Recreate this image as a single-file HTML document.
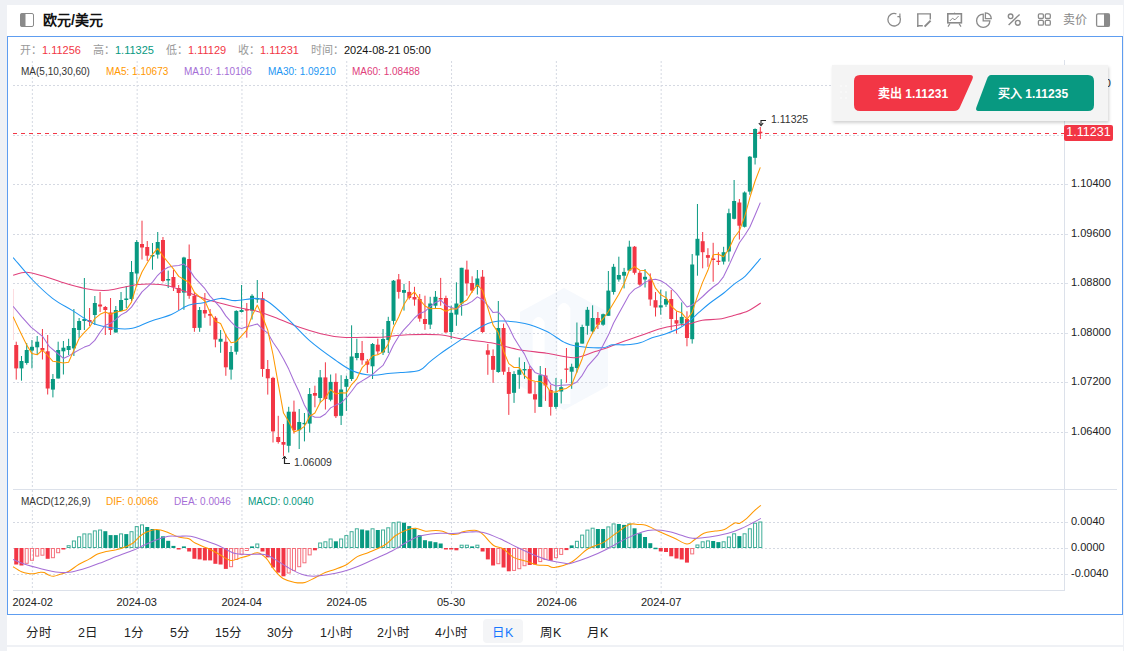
<!DOCTYPE html>
<html lang="zh-CN"><head><meta charset="utf-8">
<style>
*{margin:0;padding:0;box-sizing:border-box}
html,body{width:1124px;height:651px;overflow:hidden;background:#EFF1F5;font-family:"Liberation Sans",sans-serif;position:relative}
.panel{position:absolute;left:7px;top:5px;width:1116px;height:640px;background:#fff}
.frame{position:absolute;left:7px;top:36px;width:1116px;height:579px;border:1px solid #5E9DF0}
.t{position:absolute;white-space:nowrap;line-height:1}
svg{position:absolute;left:0;top:0}
.lbl{color:#999}
.tab{position:absolute;top:619px;height:24px;line-height:24px;font-size:13px;color:#222;text-align:center}
</style></head><body>
<div class="panel"></div>
<div class="frame"></div>
<!-- header -->
<svg width="1124" height="40" style="z-index:2">
 <rect x="20.5" y="13.5" width="13" height="13" rx="1.5" fill="none" stroke="#8a8a8a" stroke-width="1"/>
 <rect x="20.5" y="13.5" width="5" height="13" fill="#8a8a8a"/>
</svg>
<div class="t" style="left:43px;top:13px;font-size:14px;font-weight:bold;color:#111">欧元/美元</div>
<div class="t" style="left:1063px;top:14px;font-size:12px;color:#888">卖价</div>
<svg width="1124" height="40" style="z-index:2" fill="none" stroke="#8a8a8a" stroke-width="1.3">
 <path d="M899.6 16.5 A6.3 6.3 0 1 1 896.4 13.8" />
 <path d="M897.4 16.6 L899.9 16.6 L899.9 13.6" stroke-width="1.2"/>
 <path d="M917.8 13.2 V27 M917 13.9 H931 M930.3 13.2 V19.5 M917 25.7 H922.8" stroke-width="1.4"/>
 <path d="M924.6 26.6 L930.6 20.6" stroke-width="2"/>
 <rect x="947.8" y="13.8" width="13.6" height="9" stroke-width="1.6"/>
 <path d="M954.6 12.6 V13.6 M949.8 21 L952.4 18.3 L955 19.8 L958.6 16" stroke-width="1"/>
 <path d="M950 23.5 L948 26.6 M959 23.5 L961 26.6" stroke-width="1.2"/>
 <path d="M983.2 14.1 A6.65 6.65 0 1 0 989.9 20.8 L983.2 20.8 Z" stroke-width="1.3"/>
 <path d="M985.4 12.8 A5.9 5.9 0 0 1 991.3 18.7 L985.4 18.7 Z" stroke-width="1.3"/>
 <path d="M1008.6 25 L1019.6 14.4" stroke-width="1.4"/>
 <circle cx="1010.6" cy="16.3" r="2.3" stroke-width="1.4"/><circle cx="1017.8" cy="22.8" r="2.4" stroke-width="1.4"/>
 <rect x="1038.4" y="13.9" width="5" height="4.6" rx="1.2"/><rect x="1045.3" y="13.9" width="5" height="4.6" rx="1.2"/>
 <rect x="1038.4" y="20.4" width="5" height="4.8" rx="1.2"/><rect x="1045.3" y="20.4" width="5" height="4.8" rx="1.2"/>
 <rect x="1096.6" y="13.8" width="12.8" height="12.6" rx="1.5"/>
 <rect x="1104" y="13.5" width="5.5" height="13" fill="#8a8a8a" stroke="none"/>
</svg>
<!-- chart -->
<svg width="1124" height="651">
<defs><clipPath id="mainclip"><rect x="13" y="60" width="1051" height="429"/></clipPath></defs>
<path fill-rule="evenodd" fill="#F6F9FD" d="M564 288 L608 312 L608 386 L564 410 L520 386 L520 312 Z M532.6 390 V322 Q538.6 312 544.6 322 V396 Z M557.5 404 V308 Q564 298 570.4 308 V404 Z"/>
<g stroke="#D5D9E2" stroke-width="1" stroke-dasharray="2,2" fill="none">
<line x1="13" y1="85.5" x2="1064" y2="85.5"/>
<line x1="13" y1="135.5" x2="1064" y2="135.5"/>
<line x1="13" y1="184.5" x2="1064" y2="184.5"/>
<line x1="13" y1="234.5" x2="1064" y2="234.5"/>
<line x1="13" y1="283.5" x2="1064" y2="283.5"/>
<line x1="13" y1="333.5" x2="1064" y2="333.5"/>
<line x1="13" y1="382.5" x2="1064" y2="382.5"/>
<line x1="13" y1="432.5" x2="1064" y2="432.5"/>
<line x1="13" y1="522.5" x2="1064" y2="522.5"/>
<line x1="13" y1="548.5" x2="1064" y2="548.5"/>
<line x1="13" y1="574.5" x2="1064" y2="574.5"/>
<line x1="32.36" y1="61" x2="32.36" y2="489"/>
<line x1="32.36" y1="490" x2="32.36" y2="590"/>
<line x1="137.16" y1="61" x2="137.16" y2="489"/>
<line x1="137.16" y1="490" x2="137.16" y2="590"/>
<line x1="241.96" y1="61" x2="241.96" y2="489"/>
<line x1="241.96" y1="490" x2="241.96" y2="590"/>
<line x1="346.76" y1="61" x2="346.76" y2="489"/>
<line x1="346.76" y1="490" x2="346.76" y2="590"/>
<line x1="451.56" y1="61" x2="451.56" y2="489"/>
<line x1="451.56" y1="490" x2="451.56" y2="590"/>
<line x1="556.36" y1="61" x2="556.36" y2="489"/>
<line x1="556.36" y1="490" x2="556.36" y2="590"/>
<line x1="661.16" y1="61" x2="661.16" y2="489"/>
<line x1="661.16" y1="490" x2="661.16" y2="590"/>
</g>
<g stroke="#DCE1EA" stroke-width="1" fill="none">
<line x1="1064.5" y1="60" x2="1064.5" y2="591"/>
<line x1="13" y1="489.5" x2="1117" y2="489.5"/>
<line x1="13" y1="590.5" x2="1064" y2="590.5"/>
<line x1="1065" y1="85.5" x2="1068" y2="85.5"/>
<line x1="1065" y1="135.5" x2="1068" y2="135.5"/>
<line x1="1065" y1="184.5" x2="1068" y2="184.5"/>
<line x1="1065" y1="234.5" x2="1068" y2="234.5"/>
<line x1="1065" y1="283.5" x2="1068" y2="283.5"/>
<line x1="1065" y1="333.5" x2="1068" y2="333.5"/>
<line x1="1065" y1="382.5" x2="1068" y2="382.5"/>
<line x1="1065" y1="432.5" x2="1068" y2="432.5"/>
<line x1="1065" y1="522.5" x2="1068" y2="522.5"/>
<line x1="1065" y1="548.5" x2="1068" y2="548.5"/>
<line x1="1065" y1="574.5" x2="1068" y2="574.5"/>
<line x1="32.36" y1="591" x2="32.36" y2="594"/>
<line x1="137.16" y1="591" x2="137.16" y2="594"/>
<line x1="241.96" y1="591" x2="241.96" y2="594"/>
<line x1="346.76" y1="591" x2="346.76" y2="594"/>
<line x1="451.56" y1="591" x2="451.56" y2="594"/>
<line x1="556.36" y1="591" x2="556.36" y2="594"/>
<line x1="661.16" y1="591" x2="661.16" y2="594"/>
</g>
<g clip-path="url(#mainclip)">
<line x1="13.5" y1="289" x2="13.5" y2="340" stroke="#FCDCE0" stroke-width="1"/>
<line x1="16.24" y1="341.7" x2="16.24" y2="379.6" stroke="#F23645" stroke-width="1"/>
<rect x="14.24" y="345.0" width="4" height="23.4" fill="#F23645"/>
<line x1="21.48" y1="356.0" x2="21.48" y2="380.7" stroke="#089981" stroke-width="1"/>
<rect x="19.48" y="361.0" width="4" height="7.4" fill="#089981"/>
<line x1="26.72" y1="343.0" x2="26.72" y2="364.7" stroke="#089981" stroke-width="1"/>
<rect x="24.72" y="350.0" width="4" height="13.0" fill="#089981"/>
<line x1="31.96" y1="340.0" x2="31.96" y2="368.4" stroke="#089981" stroke-width="1"/>
<rect x="29.96" y="346.8" width="4" height="3.8" fill="#089981"/>
<line x1="37.20" y1="336.0" x2="37.20" y2="355.0" stroke="#089981" stroke-width="1"/>
<rect x="35.20" y="341.7" width="4" height="5.6" fill="#089981"/>
<line x1="42.44" y1="329.0" x2="42.44" y2="359.5" stroke="#F23645" stroke-width="1"/>
<rect x="40.44" y="348.0" width="4" height="2.5" fill="#F23645"/>
<line x1="47.68" y1="335.0" x2="47.68" y2="394.5" stroke="#F23645" stroke-width="1"/>
<rect x="45.68" y="351.3" width="4" height="37.2" fill="#F23645"/>
<line x1="52.92" y1="374.0" x2="52.92" y2="397.4" stroke="#089981" stroke-width="1"/>
<rect x="50.92" y="379.0" width="4" height="10.6" fill="#089981"/>
<line x1="58.16" y1="341.7" x2="58.16" y2="378.5" stroke="#089981" stroke-width="1"/>
<rect x="56.16" y="350.0" width="4" height="28.5" fill="#089981"/>
<line x1="63.40" y1="341.0" x2="63.40" y2="374.5" stroke="#089981" stroke-width="1"/>
<rect x="61.40" y="347.7" width="4" height="3.6" fill="#089981"/>
<line x1="68.64" y1="338.8" x2="68.64" y2="355.0" stroke="#089981" stroke-width="1"/>
<rect x="66.64" y="346.0" width="4" height="4.0" fill="#089981"/>
<line x1="73.88" y1="309.0" x2="73.88" y2="356.0" stroke="#089981" stroke-width="1"/>
<rect x="71.88" y="328.0" width="4" height="20.4" fill="#089981"/>
<line x1="79.12" y1="318.0" x2="79.12" y2="338.0" stroke="#089981" stroke-width="1"/>
<rect x="77.12" y="321.0" width="4" height="9.0" fill="#089981"/>
<line x1="84.36" y1="278.0" x2="84.36" y2="330.0" stroke="#089981" stroke-width="1"/>
<rect x="82.36" y="319.0" width="4" height="2.0" fill="#089981"/>
<line x1="89.60" y1="308.0" x2="89.60" y2="326.0" stroke="#F23645" stroke-width="1"/>
<rect x="87.60" y="320.0" width="4" height="2.0" fill="#F23645"/>
<line x1="94.84" y1="296.0" x2="94.84" y2="325.0" stroke="#089981" stroke-width="1"/>
<rect x="92.84" y="303.0" width="4" height="12.0" fill="#089981"/>
<line x1="100.08" y1="292.0" x2="100.08" y2="312.0" stroke="#F23645" stroke-width="1"/>
<rect x="98.08" y="304.5" width="4" height="2.0" fill="#F23645"/>
<line x1="105.32" y1="306.0" x2="105.32" y2="335.0" stroke="#F23645" stroke-width="1"/>
<rect x="103.32" y="307.0" width="4" height="3.0" fill="#F23645"/>
<line x1="110.56" y1="298.0" x2="110.56" y2="335.0" stroke="#F23645" stroke-width="1"/>
<rect x="108.56" y="312.5" width="4" height="17.5" fill="#F23645"/>
<line x1="115.80" y1="306.0" x2="115.80" y2="332.5" stroke="#089981" stroke-width="1"/>
<rect x="113.80" y="310.0" width="4" height="22.5" fill="#089981"/>
<line x1="121.04" y1="292.0" x2="121.04" y2="311.0" stroke="#089981" stroke-width="1"/>
<rect x="119.04" y="300.0" width="4" height="11.0" fill="#089981"/>
<line x1="126.28" y1="286.0" x2="126.28" y2="308.0" stroke="#089981" stroke-width="1"/>
<rect x="124.28" y="298.5" width="4" height="1.5" fill="#089981"/>
<line x1="131.52" y1="261.0" x2="131.52" y2="301.0" stroke="#089981" stroke-width="1"/>
<rect x="129.52" y="272.0" width="4" height="27.0" fill="#089981"/>
<line x1="136.76" y1="240.0" x2="136.76" y2="285.0" stroke="#089981" stroke-width="1"/>
<rect x="134.76" y="242.0" width="4" height="31.5" fill="#089981"/>
<line x1="142.00" y1="220.7" x2="142.00" y2="259.5" stroke="#F23645" stroke-width="1"/>
<rect x="140.00" y="244.0" width="4" height="3.5" fill="#F23645"/>
<line x1="147.24" y1="241.0" x2="147.24" y2="261.0" stroke="#F23645" stroke-width="1"/>
<rect x="145.24" y="247.0" width="4" height="8.7" fill="#F23645"/>
<line x1="152.48" y1="243.0" x2="152.48" y2="269.7" stroke="#089981" stroke-width="1"/>
<rect x="150.48" y="255.0" width="4" height="1.5" fill="#089981"/>
<line x1="157.72" y1="232.0" x2="157.72" y2="258.6" stroke="#089981" stroke-width="1"/>
<rect x="155.72" y="242.0" width="4" height="12.6" fill="#089981"/>
<line x1="162.96" y1="237.0" x2="162.96" y2="282.4" stroke="#F23645" stroke-width="1"/>
<rect x="160.96" y="240.0" width="4" height="41.0" fill="#F23645"/>
<line x1="168.20" y1="270.6" x2="168.20" y2="288.0" stroke="#089981" stroke-width="1"/>
<rect x="166.20" y="279.0" width="4" height="1.5" fill="#089981"/>
<line x1="173.44" y1="269.7" x2="173.44" y2="291.0" stroke="#F23645" stroke-width="1"/>
<rect x="171.44" y="277.0" width="4" height="10.0" fill="#F23645"/>
<line x1="178.68" y1="285.0" x2="178.68" y2="310.0" stroke="#F23645" stroke-width="1"/>
<rect x="176.68" y="288.0" width="4" height="5.0" fill="#F23645"/>
<line x1="183.92" y1="256.8" x2="183.92" y2="309.8" stroke="#089981" stroke-width="1"/>
<rect x="181.92" y="257.5" width="4" height="35.1" fill="#089981"/>
<line x1="189.16" y1="244.5" x2="189.16" y2="298.8" stroke="#F23645" stroke-width="1"/>
<rect x="187.16" y="259.0" width="4" height="36.8" fill="#F23645"/>
<line x1="194.40" y1="292.0" x2="194.40" y2="331.8" stroke="#F23645" stroke-width="1"/>
<rect x="192.40" y="295.8" width="4" height="32.2" fill="#F23645"/>
<line x1="199.64" y1="307.0" x2="199.64" y2="331.8" stroke="#089981" stroke-width="1"/>
<rect x="197.64" y="310.0" width="4" height="17.8" fill="#089981"/>
<line x1="204.88" y1="293.0" x2="204.88" y2="317.8" stroke="#F23645" stroke-width="1"/>
<rect x="202.88" y="310.0" width="4" height="3.5" fill="#F23645"/>
<line x1="210.12" y1="309.0" x2="210.12" y2="325.7" stroke="#F23645" stroke-width="1"/>
<rect x="208.12" y="314.0" width="4" height="1.7" fill="#F23645"/>
<line x1="215.36" y1="316.2" x2="215.36" y2="347.3" stroke="#F23645" stroke-width="1"/>
<rect x="213.36" y="317.8" width="4" height="21.7" fill="#F23645"/>
<line x1="220.60" y1="330.0" x2="220.60" y2="352.8" stroke="#089981" stroke-width="1"/>
<rect x="218.60" y="338.8" width="4" height="2.9" fill="#089981"/>
<line x1="225.84" y1="334.0" x2="225.84" y2="375.8" stroke="#F23645" stroke-width="1"/>
<rect x="223.84" y="341.7" width="4" height="25.6" fill="#F23645"/>
<line x1="231.08" y1="346.0" x2="231.08" y2="379.6" stroke="#089981" stroke-width="1"/>
<rect x="229.08" y="352.0" width="4" height="17.6" fill="#089981"/>
<line x1="236.32" y1="310.3" x2="236.32" y2="354.6" stroke="#089981" stroke-width="1"/>
<rect x="234.32" y="310.9" width="4" height="40.8" fill="#089981"/>
<line x1="241.56" y1="285.0" x2="241.56" y2="312.5" stroke="#089981" stroke-width="1"/>
<rect x="239.56" y="310.0" width="4" height="2.0" fill="#089981"/>
<line x1="246.80" y1="303.0" x2="246.80" y2="337.7" stroke="#F23645" stroke-width="1"/>
<rect x="244.80" y="309.2" width="4" height="1.4" fill="#F23645"/>
<line x1="252.04" y1="294.2" x2="252.04" y2="319.5" stroke="#089981" stroke-width="1"/>
<rect x="250.04" y="295.8" width="4" height="14.8" fill="#089981"/>
<line x1="257.28" y1="280.0" x2="257.28" y2="302.8" stroke="#089981" stroke-width="1"/>
<rect x="255.28" y="298.0" width="4" height="1.5" fill="#089981"/>
<line x1="262.52" y1="292.0" x2="262.52" y2="376.8" stroke="#F23645" stroke-width="1"/>
<rect x="260.52" y="298.2" width="4" height="70.8" fill="#F23645"/>
<line x1="267.76" y1="360.0" x2="267.76" y2="394.6" stroke="#F23645" stroke-width="1"/>
<rect x="265.76" y="369.0" width="4" height="9.3" fill="#F23645"/>
<line x1="273.00" y1="376.8" x2="273.00" y2="442.5" stroke="#F23645" stroke-width="1"/>
<rect x="271.00" y="377.9" width="4" height="53.5" fill="#F23645"/>
<line x1="278.24" y1="415.8" x2="278.24" y2="443.6" stroke="#F23645" stroke-width="1"/>
<rect x="276.24" y="437.0" width="4" height="5.0" fill="#F23645"/>
<line x1="283.48" y1="424.0" x2="283.48" y2="455.9" stroke="#F23645" stroke-width="1"/>
<rect x="281.48" y="442.0" width="4" height="2.7" fill="#F23645"/>
<line x1="288.72" y1="406.8" x2="288.72" y2="452.5" stroke="#089981" stroke-width="1"/>
<rect x="286.72" y="411.7" width="4" height="34.1" fill="#089981"/>
<line x1="293.96" y1="400.6" x2="293.96" y2="433.6" stroke="#F23645" stroke-width="1"/>
<rect x="291.96" y="411.7" width="4" height="18.5" fill="#F23645"/>
<line x1="299.20" y1="409.0" x2="299.20" y2="449.0" stroke="#089981" stroke-width="1"/>
<rect x="297.20" y="422.0" width="4" height="8.2" fill="#089981"/>
<line x1="304.44" y1="413.0" x2="304.44" y2="441.4" stroke="#089981" stroke-width="1"/>
<rect x="302.44" y="422.9" width="4" height="1.3" fill="#089981"/>
<line x1="309.68" y1="388.0" x2="309.68" y2="432.5" stroke="#089981" stroke-width="1"/>
<rect x="307.68" y="394.0" width="4" height="29.6" fill="#089981"/>
<line x1="314.92" y1="385.7" x2="314.92" y2="407.3" stroke="#F23645" stroke-width="1"/>
<rect x="312.92" y="393.0" width="4" height="2.7" fill="#F23645"/>
<line x1="320.16" y1="370.0" x2="320.16" y2="402.8" stroke="#089981" stroke-width="1"/>
<rect x="318.16" y="377.4" width="4" height="20.6" fill="#089981"/>
<line x1="325.40" y1="362.3" x2="325.40" y2="409.5" stroke="#F23645" stroke-width="1"/>
<rect x="323.40" y="377.4" width="4" height="21.6" fill="#F23645"/>
<line x1="330.64" y1="374.5" x2="330.64" y2="401.3" stroke="#089981" stroke-width="1"/>
<rect x="328.64" y="381.9" width="4" height="17.8" fill="#089981"/>
<line x1="335.88" y1="373.4" x2="335.88" y2="418.0" stroke="#F23645" stroke-width="1"/>
<rect x="333.88" y="381.9" width="4" height="34.3" fill="#F23645"/>
<line x1="341.12" y1="375.2" x2="341.12" y2="425.0" stroke="#089981" stroke-width="1"/>
<rect x="339.12" y="389.5" width="4" height="26.3" fill="#089981"/>
<line x1="346.36" y1="375.6" x2="346.36" y2="410.9" stroke="#089981" stroke-width="1"/>
<rect x="344.36" y="379.0" width="4" height="7.8" fill="#089981"/>
<line x1="351.60" y1="325.3" x2="351.60" y2="381.0" stroke="#089981" stroke-width="1"/>
<rect x="349.60" y="356.5" width="4" height="22.5" fill="#089981"/>
<line x1="356.84" y1="338.7" x2="356.84" y2="360.3" stroke="#089981" stroke-width="1"/>
<rect x="354.84" y="353.0" width="4" height="5.0" fill="#089981"/>
<line x1="362.08" y1="341.0" x2="362.08" y2="364.7" stroke="#F23645" stroke-width="1"/>
<rect x="360.08" y="353.0" width="4" height="7.3" fill="#F23645"/>
<line x1="367.32" y1="359.0" x2="367.32" y2="373.0" stroke="#F23645" stroke-width="1"/>
<rect x="365.32" y="361.4" width="4" height="3.3" fill="#F23645"/>
<line x1="372.56" y1="343.0" x2="372.56" y2="379.0" stroke="#089981" stroke-width="1"/>
<rect x="370.56" y="344.0" width="4" height="22.3" fill="#089981"/>
<line x1="377.80" y1="338.7" x2="377.80" y2="354.7" stroke="#F23645" stroke-width="1"/>
<rect x="375.80" y="344.7" width="4" height="6.7" fill="#F23645"/>
<line x1="383.04" y1="329.0" x2="383.04" y2="355.0" stroke="#089981" stroke-width="1"/>
<rect x="381.04" y="339.0" width="4" height="13.5" fill="#089981"/>
<line x1="388.28" y1="316.8" x2="388.28" y2="353.0" stroke="#089981" stroke-width="1"/>
<rect x="386.28" y="321.0" width="4" height="19.0" fill="#089981"/>
<line x1="393.52" y1="280.0" x2="393.52" y2="324.6" stroke="#089981" stroke-width="1"/>
<rect x="391.52" y="280.7" width="4" height="40.2" fill="#089981"/>
<line x1="398.76" y1="274.0" x2="398.76" y2="298.6" stroke="#F23645" stroke-width="1"/>
<rect x="396.76" y="279.4" width="4" height="12.5" fill="#F23645"/>
<line x1="404.00" y1="283.9" x2="404.00" y2="310.6" stroke="#089981" stroke-width="1"/>
<rect x="402.00" y="290.0" width="4" height="2.8" fill="#089981"/>
<line x1="409.24" y1="281.0" x2="409.24" y2="299.5" stroke="#F23645" stroke-width="1"/>
<rect x="407.24" y="291.9" width="4" height="6.0" fill="#F23645"/>
<line x1="414.48" y1="286.8" x2="414.48" y2="305.7" stroke="#F23645" stroke-width="1"/>
<rect x="412.48" y="297.0" width="4" height="2.5" fill="#F23645"/>
<line x1="419.72" y1="294.0" x2="419.72" y2="321.7" stroke="#F23645" stroke-width="1"/>
<rect x="417.72" y="299.0" width="4" height="19.6" fill="#F23645"/>
<line x1="424.96" y1="295.7" x2="424.96" y2="329.8" stroke="#F23645" stroke-width="1"/>
<rect x="422.96" y="319.0" width="4" height="5.0" fill="#F23645"/>
<line x1="430.20" y1="296.8" x2="430.20" y2="329.0" stroke="#089981" stroke-width="1"/>
<rect x="428.20" y="303.5" width="4" height="21.1" fill="#089981"/>
<line x1="435.44" y1="291.0" x2="435.44" y2="308.4" stroke="#089981" stroke-width="1"/>
<rect x="433.44" y="296.8" width="4" height="8.9" fill="#089981"/>
<line x1="440.68" y1="277.9" x2="440.68" y2="305.7" stroke="#F23645" stroke-width="1"/>
<rect x="438.68" y="298.0" width="4" height="1.5" fill="#F23645"/>
<line x1="445.92" y1="295.7" x2="445.92" y2="332.9" stroke="#F23645" stroke-width="1"/>
<rect x="443.92" y="298.0" width="4" height="34.4" fill="#F23645"/>
<line x1="451.16" y1="305.7" x2="451.16" y2="339.0" stroke="#089981" stroke-width="1"/>
<rect x="449.16" y="312.8" width="4" height="19.2" fill="#089981"/>
<line x1="456.40" y1="282.3" x2="456.40" y2="325.8" stroke="#089981" stroke-width="1"/>
<rect x="454.40" y="303.5" width="4" height="11.1" fill="#089981"/>
<line x1="461.64" y1="267.8" x2="461.64" y2="315.7" stroke="#089981" stroke-width="1"/>
<rect x="459.64" y="267.8" width="4" height="35.7" fill="#089981"/>
<line x1="466.88" y1="260.7" x2="466.88" y2="295.7" stroke="#F23645" stroke-width="1"/>
<rect x="464.88" y="269.6" width="4" height="13.8" fill="#F23645"/>
<line x1="472.12" y1="276.3" x2="472.12" y2="292.8" stroke="#F23645" stroke-width="1"/>
<rect x="470.12" y="283.0" width="4" height="7.6" fill="#F23645"/>
<line x1="477.36" y1="270.0" x2="477.36" y2="294.6" stroke="#089981" stroke-width="1"/>
<rect x="475.36" y="278.5" width="4" height="8.3" fill="#089981"/>
<line x1="482.60" y1="270.0" x2="482.60" y2="332.9" stroke="#F23645" stroke-width="1"/>
<rect x="480.60" y="276.7" width="4" height="55.3" fill="#F23645"/>
<line x1="487.84" y1="344.0" x2="487.84" y2="374.8" stroke="#F23645" stroke-width="1"/>
<rect x="485.84" y="350.3" width="4" height="4.4" fill="#F23645"/>
<line x1="493.08" y1="349.4" x2="493.08" y2="382.8" stroke="#F23645" stroke-width="1"/>
<rect x="491.08" y="356.0" width="4" height="13.8" fill="#F23645"/>
<line x1="498.32" y1="301.0" x2="498.32" y2="372.8" stroke="#089981" stroke-width="1"/>
<rect x="496.32" y="328.0" width="4" height="44.0" fill="#089981"/>
<line x1="503.56" y1="323.6" x2="503.56" y2="374.8" stroke="#F23645" stroke-width="1"/>
<rect x="501.56" y="328.0" width="4" height="43.7" fill="#F23645"/>
<line x1="508.80" y1="367.2" x2="508.80" y2="414.9" stroke="#F23645" stroke-width="1"/>
<rect x="506.80" y="372.0" width="4" height="21.9" fill="#F23645"/>
<line x1="514.04" y1="371.2" x2="514.04" y2="402.9" stroke="#089981" stroke-width="1"/>
<rect x="512.04" y="374.0" width="4" height="18.8" fill="#089981"/>
<line x1="519.28" y1="357.4" x2="519.28" y2="388.8" stroke="#089981" stroke-width="1"/>
<rect x="517.28" y="369.8" width="4" height="5.0" fill="#089981"/>
<line x1="524.52" y1="362.0" x2="524.52" y2="378.8" stroke="#089981" stroke-width="1"/>
<rect x="522.52" y="369.0" width="4" height="1.4" fill="#089981"/>
<line x1="529.76" y1="366.0" x2="529.76" y2="393.5" stroke="#F23645" stroke-width="1"/>
<rect x="527.76" y="369.0" width="4" height="24.5" fill="#F23645"/>
<line x1="535.00" y1="382.0" x2="535.00" y2="412.9" stroke="#F23645" stroke-width="1"/>
<rect x="533.00" y="394.2" width="4" height="5.3" fill="#F23645"/>
<line x1="540.24" y1="366.0" x2="540.24" y2="406.9" stroke="#089981" stroke-width="1"/>
<rect x="538.24" y="375.2" width="4" height="31.7" fill="#089981"/>
<line x1="545.48" y1="368.0" x2="545.48" y2="400.9" stroke="#F23645" stroke-width="1"/>
<rect x="543.48" y="375.5" width="4" height="10.0" fill="#F23645"/>
<line x1="550.72" y1="384.8" x2="550.72" y2="415.6" stroke="#F23645" stroke-width="1"/>
<rect x="548.72" y="390.0" width="4" height="16.9" fill="#F23645"/>
<line x1="555.96" y1="378.0" x2="555.96" y2="408.9" stroke="#089981" stroke-width="1"/>
<rect x="553.96" y="392.8" width="4" height="14.1" fill="#089981"/>
<line x1="561.20" y1="379.2" x2="561.20" y2="403.5" stroke="#089981" stroke-width="1"/>
<rect x="559.20" y="387.2" width="4" height="4.3" fill="#089981"/>
<line x1="566.44" y1="348.0" x2="566.44" y2="382.8" stroke="#F23645" stroke-width="1"/>
<rect x="564.44" y="368.5" width="4" height="1.3" fill="#F23645"/>
<line x1="571.68" y1="363.7" x2="571.68" y2="388.8" stroke="#089981" stroke-width="1"/>
<rect x="569.68" y="366.8" width="4" height="4.9" fill="#089981"/>
<line x1="576.92" y1="322.5" x2="576.92" y2="372.6" stroke="#089981" stroke-width="1"/>
<rect x="574.92" y="342.5" width="4" height="25.5" fill="#089981"/>
<line x1="582.16" y1="324.7" x2="582.16" y2="343.6" stroke="#089981" stroke-width="1"/>
<rect x="580.16" y="327.0" width="4" height="16.6" fill="#089981"/>
<line x1="587.40" y1="306.9" x2="587.40" y2="334.7" stroke="#089981" stroke-width="1"/>
<rect x="585.40" y="309.8" width="4" height="16.0" fill="#089981"/>
<line x1="592.64" y1="305.3" x2="592.64" y2="333.6" stroke="#089981" stroke-width="1"/>
<rect x="590.64" y="318.0" width="4" height="13.4" fill="#089981"/>
<line x1="597.88" y1="312.0" x2="597.88" y2="329.0" stroke="#F23645" stroke-width="1"/>
<rect x="595.88" y="318.0" width="4" height="6.7" fill="#F23645"/>
<line x1="603.12" y1="313.6" x2="603.12" y2="325.8" stroke="#089981" stroke-width="1"/>
<rect x="601.12" y="314.2" width="4" height="10.5" fill="#089981"/>
<line x1="608.36" y1="271.0" x2="608.36" y2="315.8" stroke="#089981" stroke-width="1"/>
<rect x="606.36" y="290.6" width="4" height="25.2" fill="#089981"/>
<line x1="613.60" y1="263.9" x2="613.60" y2="294.6" stroke="#089981" stroke-width="1"/>
<rect x="611.60" y="266.8" width="4" height="25.2" fill="#089981"/>
<line x1="618.84" y1="256.7" x2="618.84" y2="281.7" stroke="#089981" stroke-width="1"/>
<rect x="616.84" y="275.0" width="4" height="4.5" fill="#089981"/>
<line x1="624.08" y1="267.9" x2="624.08" y2="288.4" stroke="#089981" stroke-width="1"/>
<rect x="622.08" y="271.9" width="4" height="3.8" fill="#089981"/>
<line x1="629.32" y1="240.7" x2="629.32" y2="270.6" stroke="#089981" stroke-width="1"/>
<rect x="627.32" y="246.7" width="4" height="23.9" fill="#089981"/>
<line x1="634.56" y1="246.0" x2="634.56" y2="274.6" stroke="#F23645" stroke-width="1"/>
<rect x="632.56" y="246.7" width="4" height="26.1" fill="#F23645"/>
<line x1="639.80" y1="271.0" x2="639.80" y2="285.7" stroke="#F23645" stroke-width="1"/>
<rect x="637.80" y="272.8" width="4" height="11.8" fill="#F23645"/>
<line x1="645.04" y1="269.0" x2="645.04" y2="287.5" stroke="#089981" stroke-width="1"/>
<rect x="643.04" y="276.8" width="4" height="2.7" fill="#089981"/>
<line x1="650.28" y1="273.4" x2="650.28" y2="305.8" stroke="#F23645" stroke-width="1"/>
<rect x="648.28" y="279.5" width="4" height="20.0" fill="#F23645"/>
<line x1="655.52" y1="292.0" x2="655.52" y2="316.5" stroke="#F23645" stroke-width="1"/>
<rect x="653.52" y="300.2" width="4" height="7.3" fill="#F23645"/>
<line x1="660.76" y1="289.7" x2="660.76" y2="314.7" stroke="#089981" stroke-width="1"/>
<rect x="658.76" y="305.3" width="4" height="2.2" fill="#089981"/>
<line x1="666.00" y1="291.3" x2="666.00" y2="306.9" stroke="#089981" stroke-width="1"/>
<rect x="664.00" y="299.0" width="4" height="5.6" fill="#089981"/>
<line x1="671.24" y1="290.0" x2="671.24" y2="330.3" stroke="#F23645" stroke-width="1"/>
<rect x="669.24" y="299.0" width="4" height="20.0" fill="#F23645"/>
<line x1="676.48" y1="311.3" x2="676.48" y2="333.6" stroke="#F23645" stroke-width="1"/>
<rect x="674.48" y="320.2" width="4" height="3.4" fill="#F23645"/>
<line x1="681.72" y1="302.4" x2="681.72" y2="325.8" stroke="#089981" stroke-width="1"/>
<rect x="679.72" y="316.9" width="4" height="6.7" fill="#089981"/>
<line x1="686.96" y1="311.3" x2="686.96" y2="346.3" stroke="#F23645" stroke-width="1"/>
<rect x="684.96" y="319.0" width="4" height="19.0" fill="#F23645"/>
<line x1="692.20" y1="254.0" x2="692.20" y2="343.6" stroke="#089981" stroke-width="1"/>
<rect x="690.20" y="264.5" width="4" height="74.7" fill="#089981"/>
<line x1="697.44" y1="204.0" x2="697.44" y2="275.7" stroke="#089981" stroke-width="1"/>
<rect x="695.44" y="238.8" width="4" height="16.7" fill="#089981"/>
<line x1="702.68" y1="232.0" x2="702.68" y2="268.3" stroke="#F23645" stroke-width="1"/>
<rect x="700.68" y="241.2" width="4" height="11.0" fill="#F23645"/>
<line x1="707.92" y1="248.2" x2="707.92" y2="266.8" stroke="#F23645" stroke-width="1"/>
<rect x="705.92" y="255.1" width="4" height="2.7" fill="#F23645"/>
<line x1="713.16" y1="242.8" x2="713.16" y2="281.7" stroke="#F23645" stroke-width="1"/>
<rect x="711.16" y="258.5" width="4" height="1.5" fill="#F23645"/>
<line x1="718.40" y1="252.2" x2="718.40" y2="265.0" stroke="#F23645" stroke-width="1"/>
<rect x="716.40" y="260.7" width="4" height="1.3" fill="#F23645"/>
<line x1="723.64" y1="246.8" x2="723.64" y2="264.5" stroke="#089981" stroke-width="1"/>
<rect x="721.64" y="252.2" width="4" height="9.4" fill="#089981"/>
<line x1="728.88" y1="208.7" x2="728.88" y2="261.6" stroke="#089981" stroke-width="1"/>
<rect x="726.88" y="213.2" width="4" height="38.3" fill="#089981"/>
<line x1="734.12" y1="180.0" x2="734.12" y2="219.4" stroke="#089981" stroke-width="1"/>
<rect x="732.12" y="201.0" width="4" height="17.8" fill="#089981"/>
<line x1="739.36" y1="199.0" x2="739.36" y2="239.5" stroke="#F23645" stroke-width="1"/>
<rect x="737.36" y="202.5" width="4" height="23.2" fill="#F23645"/>
<line x1="744.60" y1="191.4" x2="744.60" y2="227.5" stroke="#089981" stroke-width="1"/>
<rect x="742.60" y="192.5" width="4" height="34.3" fill="#089981"/>
<line x1="749.84" y1="156.0" x2="749.84" y2="194.8" stroke="#089981" stroke-width="1"/>
<rect x="747.84" y="156.7" width="4" height="34.9" fill="#089981"/>
<line x1="755.08" y1="128.4" x2="755.08" y2="164.5" stroke="#089981" stroke-width="1"/>
<rect x="753.08" y="129.0" width="4" height="28.8" fill="#089981"/>
<line x1="760.32" y1="127.0" x2="760.32" y2="139.0" stroke="#F23645" stroke-width="1"/>
<rect x="758.32" y="131.7" width="4" height="1.6" fill="#F23645"/>
</g>
<g clip-path="url(#mainclip)">
<path d="M13.1,275.3 C15.3,274.8 21.4,272.1 26.4,272.2 C31.4,272.3 37.4,274.4 43.3,276.1 C49.2,277.8 54.8,280.1 61.7,282.2 C68.6,284.2 77.9,287.0 84.8,288.4 C91.7,289.8 98.1,290.3 103.2,290.4 C108.3,290.5 109.6,290.1 115.5,289.1 C121.4,288.1 131.1,285.3 138.5,284.5 C145.9,283.7 154.5,284.1 160.0,284.5 C165.5,284.9 166.0,285.1 171.4,286.7 C176.8,288.3 185.6,291.7 192.7,294.2 C199.8,296.7 207.0,299.5 214.1,301.6 C221.2,303.7 228.3,305.4 235.4,307.0 C242.5,308.6 249.7,309.2 256.8,311.2 C263.9,313.1 271.0,316.0 278.1,318.7 C285.2,321.4 292.4,324.8 299.5,327.3 C306.6,329.8 313.7,332.0 320.8,333.7 C327.9,335.4 335.1,336.7 342.2,337.3 C349.3,337.9 357.2,337.3 363.5,337.3 C369.8,337.3 372.6,337.6 380.0,337.2 C387.4,336.8 398.0,335.2 407.8,334.8 C417.6,334.4 429.8,334.1 439.0,334.8 C448.2,335.6 454.6,338.0 463.3,339.3 C472.0,340.6 481.8,341.1 491.0,342.8 C500.2,344.5 509.5,348.0 518.8,349.7 C528.1,351.4 537.4,351.9 546.6,353.2 C555.9,354.5 566.2,358.0 574.3,357.7 C582.4,357.4 590.0,352.9 595.1,351.4 C600.2,349.9 600.9,349.9 605.0,348.5 C609.1,347.1 614.2,344.9 620.0,342.8 C625.8,340.7 633.3,338.1 640.0,335.8 C646.7,333.5 653.3,330.6 660.0,328.8 C666.7,327.0 675.0,325.7 680.0,324.8 C685.0,323.9 686.3,324.5 690.0,323.7 C693.7,322.9 697.4,321.0 702.3,320.2 C707.2,319.4 713.8,319.9 719.2,319.1 C724.6,318.3 729.6,316.7 734.5,315.3 C739.4,313.9 744.0,312.8 748.4,310.7 C752.8,308.6 758.7,304.3 760.7,303.0" fill="none" stroke="#E0407B" stroke-width="1.05"/>
<path d="M13.1,257.5 C16.4,261.2 26.0,273.2 32.6,280.0 C39.2,286.8 45.9,293.2 52.5,298.3 C59.1,303.4 65.6,306.4 72.5,310.6 C79.4,314.8 86.8,320.8 94.0,323.7 C101.2,326.6 109.1,327.5 115.5,328.3 C121.9,329.1 126.7,329.4 132.4,328.3 C138.2,327.2 143.5,323.8 150.0,321.5 C156.5,319.2 165.0,317.2 171.4,314.5 C177.8,311.8 183.1,307.3 188.4,305.3 C193.7,303.3 198.1,303.9 203.4,302.7 C208.8,301.5 215.2,298.8 220.5,298.4 C225.8,298.0 229.3,300.6 235.4,300.6 C241.5,300.6 251.1,298.0 256.8,298.4 C262.5,298.8 264.3,299.1 269.6,302.7 C274.9,306.3 282.0,313.4 288.8,319.8 C295.6,326.2 302.4,334.3 310.2,341.1 C318.0,347.9 328.7,355.4 335.8,360.4 C342.9,365.4 346.8,368.5 352.9,371.0 C358.9,373.5 366.2,374.9 372.1,375.3 C378.0,375.7 383.2,374.0 388.0,373.5 C392.8,373.0 395.6,373.0 400.8,372.5 C406.0,372.0 414.4,372.1 419.1,370.5 C423.8,368.9 425.6,365.2 428.9,362.6 C432.2,360.0 435.4,357.2 438.7,354.8 C442.0,352.4 444.2,350.9 448.5,348.0 C452.8,345.1 458.3,341.4 464.2,337.6 C470.1,333.8 477.8,328.1 483.7,325.4 C489.6,322.6 492.5,321.4 499.4,321.1 C506.2,320.8 517.0,321.8 524.8,323.5 C532.6,325.2 539.9,328.2 546.4,331.3 C552.9,334.4 559.1,339.7 564.0,342.1 C568.9,344.6 569.4,345.1 575.7,346.0 C582.0,346.9 596.0,348.0 602.0,347.8 C608.0,347.6 608.0,345.3 612.0,344.8 C616.0,344.3 621.3,345.1 626.0,344.8 C630.7,344.5 635.7,344.0 640.0,342.8 C644.3,341.6 647.7,339.3 652.0,337.8 C656.3,336.3 661.3,335.5 666.0,333.8 C670.7,332.1 676.0,330.0 680.0,327.8 C684.0,325.6 686.8,323.2 690.0,320.6 C693.2,318.0 695.9,315.1 699.2,312.2 C702.5,309.3 705.9,306.2 710.0,303.0 C714.1,299.8 719.7,296.2 723.8,293.0 C727.9,289.8 730.9,286.6 734.5,283.8 C738.1,281.0 740.9,280.3 745.3,276.1 C749.7,271.9 758.1,261.3 760.7,258.4" fill="none" stroke="#2196F3" stroke-width="1.05"/>
<polyline points="13.1,306.4 21.8,316.8 31.0,327.1 42.5,336.3 49.4,346.7 58.2,354.0 63.4,358.4 68.6,356.1 73.9,352.8 79.1,349.9 84.4,347.1 89.6,345.2 94.8,340.4 100.1,332.2 105.3,325.3 110.6,323.3 115.8,319.6 121.0,314.9 126.3,312.0 131.5,307.1 136.8,299.4 142.0,291.9 147.2,287.2 152.5,282.1 157.7,275.3 163.0,270.4 168.2,267.3 173.4,266.0 178.7,265.4 183.9,264.0 189.2,269.4 194.4,277.4 199.6,282.8 204.9,288.7 210.1,296.1 215.4,301.9 220.6,307.9 225.8,315.9 231.1,321.8 236.3,327.1 241.6,328.6 246.8,326.8 252.0,325.4 257.3,323.9 262.5,329.2 267.8,333.1 273.0,342.3 278.2,349.8 283.5,359.1 288.7,369.1 294.0,381.2 299.2,392.3 304.4,405.0 309.7,414.6 314.9,417.3 320.2,417.2 325.4,414.0 330.6,407.9 335.9,405.1 341.1,402.9 346.4,397.8 351.6,391.2 356.8,384.2 362.1,380.9 367.3,377.8 372.6,374.4 377.8,369.6 383.0,365.4 388.3,355.8 393.5,345.0 398.8,336.2 404.0,329.6 409.2,324.1 414.5,318.0 419.7,313.4 425.0,311.4 430.2,306.6 435.4,302.4 440.7,300.2 445.9,305.4 451.2,307.5 456.4,308.9 461.6,305.8 466.9,304.2 472.1,301.4 477.4,296.9 482.6,299.7 487.8,305.5 493.1,312.6 498.3,312.1 503.6,318.0 508.8,327.0 514.0,337.7 519.3,346.3 524.5,354.1 529.8,365.6 535.0,372.4 540.2,374.4 545.5,376.0 550.7,383.9 556.0,386.0 561.2,385.3 566.4,384.9 571.7,384.6 576.9,382.0 582.2,375.3 587.4,366.4 592.6,360.6 597.9,354.6 603.1,345.3 608.4,335.1 613.6,323.0 618.8,313.5 624.1,304.1 629.3,294.5 634.6,289.1 639.8,286.5 645.0,282.4 650.3,279.9 655.5,279.2 660.8,280.7 666.0,283.9 671.2,288.3 676.5,293.5 681.7,300.5 687.0,307.0 692.2,305.0 697.4,301.2 702.7,296.5 707.9,291.5 713.2,287.0 718.4,283.3 723.6,276.6 728.9,265.6 734.1,254.0 739.4,242.7 744.6,235.5 749.8,227.3 755.1,215.0 760.3,202.6" fill="none" stroke="#A56ED6" stroke-width="1.05" stroke-linejoin="round"/>
<polyline points="13.1,316.8 16.2,323.4 21.5,334.5 26.7,345.0 32.0,353.6 37.2,354.8 42.4,350.0 47.7,355.5 52.9,361.3 58.2,361.9 63.4,363.1 68.6,362.2 73.9,350.1 79.1,338.5 84.4,332.3 89.6,327.2 94.8,318.6 100.1,314.3 105.3,312.1 110.6,314.3 115.8,311.9 121.0,311.3 126.3,309.7 131.5,302.1 136.8,284.5 142.0,272.0 147.2,263.1 152.5,254.4 157.7,248.4 163.0,256.2 168.2,262.5 173.4,268.8 178.7,276.4 183.9,279.5 189.2,282.5 194.4,292.3 199.6,296.9 204.9,301.0 210.1,312.6 215.4,321.3 220.6,323.5 225.8,335.0 231.1,342.7 236.3,341.7 241.6,335.8 246.8,330.2 252.0,315.9 257.3,305.1 262.5,316.7 267.8,330.3 273.0,354.5 278.2,383.7 283.5,413.1 288.7,421.6 294.0,432.0 299.2,430.1 304.4,426.3 309.7,416.2 314.9,413.0 320.2,402.4 325.4,397.8 330.6,389.6 335.9,394.0 341.1,392.8 346.4,393.1 351.6,384.6 356.8,378.8 362.1,367.7 367.3,362.7 372.6,355.7 377.8,354.7 383.0,351.9 388.3,344.0 393.5,327.2 398.8,316.8 404.0,304.5 409.2,296.3 414.5,292.0 419.7,299.6 425.0,306.0 430.2,308.7 435.4,308.5 440.7,308.5 445.9,311.2 451.2,309.0 456.4,309.0 461.6,303.2 466.9,300.0 472.1,291.6 477.4,284.8 482.6,290.5 487.8,307.8 493.1,325.1 498.3,332.6 503.6,351.2 508.8,363.6 514.0,367.5 519.3,367.5 524.5,375.7 529.8,380.0 535.0,381.2 540.2,381.4 545.5,384.5 550.7,392.1 556.0,392.0 561.2,389.5 566.4,388.4 571.7,384.7 576.9,371.8 582.2,358.7 587.4,343.2 592.6,332.8 597.9,324.4 603.1,318.7 608.4,311.5 613.6,302.9 618.8,294.3 624.1,283.7 629.3,270.2 634.6,266.6 639.8,270.2 645.0,270.6 650.3,276.1 655.5,288.2 660.8,294.7 666.0,297.6 671.2,306.1 676.5,310.9 681.7,312.8 687.0,319.3 692.2,312.4 697.4,296.4 702.7,282.1 707.9,270.3 713.2,254.7 718.4,254.2 723.6,256.8 728.9,249.0 734.1,237.7 739.4,230.8 744.6,216.9 749.8,197.8 755.1,181.0 760.3,167.4" fill="none" stroke="#FF9800" stroke-width="1.05" stroke-linejoin="round"/>
</g>
<g>
<rect x="14.24" y="548.0" width="4" height="16.5" fill="#F23645"/>
<rect x="19.48" y="548.0" width="4" height="17.5" fill="#F23645"/>
<rect x="25.22" y="548.5" width="3" height="14.8" fill="none" stroke="#F5707C" stroke-width="1"/>
<rect x="30.46" y="548.5" width="3" height="11.8" fill="none" stroke="#F5707C" stroke-width="1"/>
<rect x="35.70" y="548.5" width="3" height="7.6" fill="none" stroke="#F5707C" stroke-width="1"/>
<rect x="40.94" y="548.5" width="3" height="6.7" fill="none" stroke="#F5707C" stroke-width="1"/>
<rect x="45.68" y="548.0" width="4" height="10.8" fill="#F23645"/>
<rect x="51.42" y="548.5" width="3" height="9.2" fill="none" stroke="#F5707C" stroke-width="1"/>
<rect x="56.66" y="548.5" width="3" height="4.2" fill="none" stroke="#F5707C" stroke-width="1"/>
<rect x="61.40" y="548.0" width="4" height="1.5" fill="#F23645"/>
<rect x="67.14" y="545.7" width="3" height="1.8" fill="none" stroke="#3FAE98" stroke-width="1"/>
<rect x="72.38" y="541.0" width="3" height="6.5" fill="none" stroke="#3FAE98" stroke-width="1"/>
<rect x="77.62" y="536.8" width="3" height="10.7" fill="none" stroke="#3FAE98" stroke-width="1"/>
<rect x="82.86" y="533.9" width="3" height="13.6" fill="none" stroke="#3FAE98" stroke-width="1"/>
<rect x="88.10" y="533.9" width="3" height="13.6" fill="none" stroke="#3FAE98" stroke-width="1"/>
<rect x="93.34" y="530.9" width="3" height="16.6" fill="none" stroke="#3FAE98" stroke-width="1"/>
<rect x="98.58" y="530.0" width="3" height="17.5" fill="none" stroke="#3FAE98" stroke-width="1"/>
<rect x="103.32" y="531.2" width="4" height="16.8" fill="#089981"/>
<rect x="108.56" y="535.1" width="4" height="12.9" fill="#089981"/>
<rect x="113.80" y="535.1" width="4" height="12.9" fill="#089981"/>
<rect x="119.54" y="533.9" width="3" height="13.6" fill="none" stroke="#3FAE98" stroke-width="1"/>
<rect x="124.28" y="534.1" width="4" height="13.9" fill="#089981"/>
<rect x="130.02" y="531.7" width="3" height="15.8" fill="none" stroke="#3FAE98" stroke-width="1"/>
<rect x="135.26" y="526.6" width="3" height="20.9" fill="none" stroke="#3FAE98" stroke-width="1"/>
<rect x="140.50" y="524.9" width="3" height="22.6" fill="none" stroke="#3FAE98" stroke-width="1"/>
<rect x="145.24" y="527.0" width="4" height="21.0" fill="#089981"/>
<rect x="150.48" y="529.0" width="4" height="19.0" fill="#089981"/>
<rect x="155.72" y="530.0" width="4" height="18.0" fill="#089981"/>
<rect x="160.96" y="536.3" width="4" height="11.7" fill="#089981"/>
<rect x="166.20" y="540.8" width="4" height="7.2" fill="#089981"/>
<rect x="171.44" y="545.9" width="4" height="2.1" fill="#089981"/>
<rect x="176.68" y="548.0" width="4" height="1.5" fill="#F23645"/>
<rect x="181.92" y="546.4" width="4" height="1.6" fill="#089981"/>
<rect x="187.16" y="548.0" width="4" height="3.5" fill="#F23645"/>
<rect x="192.40" y="548.0" width="4" height="10.8" fill="#F23645"/>
<rect x="197.64" y="548.0" width="4" height="11.4" fill="#F23645"/>
<rect x="202.88" y="548.0" width="4" height="12.4" fill="#F23645"/>
<rect x="208.12" y="548.0" width="4" height="12.4" fill="#F23645"/>
<rect x="213.36" y="548.0" width="4" height="15.8" fill="#F23645"/>
<rect x="218.60" y="548.0" width="4" height="16.5" fill="#F23645"/>
<rect x="223.84" y="548.0" width="4" height="20.9" fill="#F23645"/>
<rect x="229.58" y="548.5" width="3" height="18.2" fill="none" stroke="#F5707C" stroke-width="1"/>
<rect x="234.82" y="548.5" width="3" height="11.0" fill="none" stroke="#F5707C" stroke-width="1"/>
<rect x="240.06" y="548.5" width="3" height="5.9" fill="none" stroke="#F5707C" stroke-width="1"/>
<rect x="245.30" y="548.5" width="3" height="2.0" fill="none" stroke="#F5707C" stroke-width="1"/>
<rect x="250.04" y="546.4" width="4" height="1.6" fill="#089981"/>
<rect x="255.78" y="544.0" width="3" height="3.5" fill="none" stroke="#3FAE98" stroke-width="1"/>
<rect x="260.52" y="548.0" width="4" height="3.5" fill="#F23645"/>
<rect x="265.76" y="548.0" width="4" height="9.4" fill="#F23645"/>
<rect x="271.00" y="548.0" width="4" height="19.5" fill="#F23645"/>
<rect x="276.24" y="548.0" width="4" height="24.6" fill="#F23645"/>
<rect x="281.48" y="548.0" width="4" height="28.3" fill="#F23645"/>
<rect x="287.22" y="548.5" width="3" height="24.5" fill="none" stroke="#F5707C" stroke-width="1"/>
<rect x="292.46" y="548.5" width="3" height="21.9" fill="none" stroke="#F5707C" stroke-width="1"/>
<rect x="297.70" y="548.5" width="3" height="18.2" fill="none" stroke="#F5707C" stroke-width="1"/>
<rect x="302.94" y="548.5" width="3" height="14.3" fill="none" stroke="#F5707C" stroke-width="1"/>
<rect x="308.18" y="548.5" width="3" height="6.4" fill="none" stroke="#F5707C" stroke-width="1"/>
<rect x="312.92" y="548.0" width="4" height="2.3" fill="#F23645"/>
<rect x="318.66" y="543.0" width="3" height="4.5" fill="none" stroke="#3FAE98" stroke-width="1"/>
<rect x="323.90" y="541.8" width="3" height="5.7" fill="none" stroke="#3FAE98" stroke-width="1"/>
<rect x="329.14" y="539.0" width="3" height="8.5" fill="none" stroke="#3FAE98" stroke-width="1"/>
<rect x="333.88" y="541.3" width="4" height="6.7" fill="#089981"/>
<rect x="339.62" y="539.0" width="3" height="8.5" fill="none" stroke="#3FAE98" stroke-width="1"/>
<rect x="344.86" y="535.6" width="3" height="11.9" fill="none" stroke="#3FAE98" stroke-width="1"/>
<rect x="350.10" y="531.7" width="3" height="15.8" fill="none" stroke="#3FAE98" stroke-width="1"/>
<rect x="355.34" y="528.8" width="3" height="18.7" fill="none" stroke="#3FAE98" stroke-width="1"/>
<rect x="360.08" y="529.5" width="4" height="18.5" fill="#089981"/>
<rect x="365.32" y="530.4" width="4" height="17.6" fill="#089981"/>
<rect x="371.06" y="528.8" width="3" height="18.7" fill="none" stroke="#3FAE98" stroke-width="1"/>
<rect x="375.80" y="530.0" width="4" height="18.0" fill="#089981"/>
<rect x="381.54" y="530.0" width="3" height="17.5" fill="none" stroke="#3FAE98" stroke-width="1"/>
<rect x="386.78" y="527.8" width="3" height="19.7" fill="none" stroke="#3FAE98" stroke-width="1"/>
<rect x="392.02" y="522.7" width="3" height="24.8" fill="none" stroke="#3FAE98" stroke-width="1"/>
<rect x="397.26" y="522.1" width="3" height="25.4" fill="none" stroke="#3FAE98" stroke-width="1"/>
<rect x="402.00" y="522.7" width="4" height="25.3" fill="#089981"/>
<rect x="407.24" y="526.1" width="4" height="21.9" fill="#089981"/>
<rect x="412.48" y="528.7" width="4" height="19.3" fill="#089981"/>
<rect x="417.72" y="535.1" width="4" height="12.9" fill="#089981"/>
<rect x="422.96" y="540.2" width="4" height="7.8" fill="#089981"/>
<rect x="428.20" y="541.3" width="4" height="6.7" fill="#089981"/>
<rect x="433.44" y="542.2" width="4" height="5.8" fill="#089981"/>
<rect x="438.68" y="543.5" width="4" height="4.5" fill="#089981"/>
<rect x="443.92" y="548.0" width="4" height="1.5" fill="#F23645"/>
<rect x="449.16" y="548.0" width="4" height="1.5" fill="#F23645"/>
<rect x="454.40" y="548.0" width="4" height="2.3" fill="#F23645"/>
<rect x="460.14" y="545.2" width="3" height="2.3" fill="none" stroke="#3FAE98" stroke-width="1"/>
<rect x="465.38" y="545.2" width="3" height="2.3" fill="none" stroke="#3FAE98" stroke-width="1"/>
<rect x="470.12" y="546.4" width="4" height="1.6" fill="#089981"/>
<rect x="475.86" y="545.2" width="3" height="2.3" fill="none" stroke="#3FAE98" stroke-width="1"/>
<rect x="480.60" y="548.0" width="4" height="3.5" fill="#F23645"/>
<rect x="485.84" y="548.0" width="4" height="11.4" fill="#F23645"/>
<rect x="491.08" y="548.0" width="4" height="17.5" fill="#F23645"/>
<rect x="496.82" y="548.5" width="3" height="15.2" fill="none" stroke="#F5707C" stroke-width="1"/>
<rect x="501.56" y="548.0" width="4" height="19.5" fill="#F23645"/>
<rect x="506.80" y="548.0" width="4" height="23.3" fill="#F23645"/>
<rect x="512.54" y="548.5" width="3" height="21.9" fill="none" stroke="#F5707C" stroke-width="1"/>
<rect x="517.78" y="548.5" width="3" height="20.2" fill="none" stroke="#F5707C" stroke-width="1"/>
<rect x="523.02" y="548.5" width="3" height="17.2" fill="none" stroke="#F5707C" stroke-width="1"/>
<rect x="527.76" y="548.0" width="4" height="17.0" fill="#F23645"/>
<rect x="533.00" y="548.0" width="4" height="16.5" fill="#F23645"/>
<rect x="538.74" y="548.5" width="3" height="13.1" fill="none" stroke="#F5707C" stroke-width="1"/>
<rect x="543.98" y="548.5" width="3" height="11.0" fill="none" stroke="#F5707C" stroke-width="1"/>
<rect x="548.72" y="548.0" width="4" height="12.8" fill="#F23645"/>
<rect x="554.46" y="548.5" width="3" height="9.2" fill="none" stroke="#F5707C" stroke-width="1"/>
<rect x="559.70" y="548.5" width="3" height="5.9" fill="none" stroke="#F5707C" stroke-width="1"/>
<rect x="564.44" y="548.0" width="4" height="2.1" fill="#F23645"/>
<rect x="569.68" y="545.4" width="4" height="2.6" fill="#089981"/>
<rect x="575.42" y="541.3" width="3" height="6.2" fill="none" stroke="#3FAE98" stroke-width="1"/>
<rect x="580.66" y="535.1" width="3" height="12.4" fill="none" stroke="#3FAE98" stroke-width="1"/>
<rect x="585.90" y="530.1" width="3" height="17.4" fill="none" stroke="#3FAE98" stroke-width="1"/>
<rect x="591.14" y="528.2" width="3" height="19.3" fill="none" stroke="#3FAE98" stroke-width="1"/>
<rect x="595.88" y="529.0" width="4" height="19.0" fill="#089981"/>
<rect x="601.12" y="529.0" width="4" height="19.0" fill="#089981"/>
<rect x="606.86" y="526.9" width="3" height="20.6" fill="none" stroke="#3FAE98" stroke-width="1"/>
<rect x="612.10" y="523.9" width="3" height="23.6" fill="none" stroke="#3FAE98" stroke-width="1"/>
<rect x="616.84" y="524.0" width="4" height="24.0" fill="#089981"/>
<rect x="622.08" y="524.9" width="4" height="23.1" fill="#089981"/>
<rect x="627.82" y="523.9" width="3" height="23.6" fill="none" stroke="#3FAE98" stroke-width="1"/>
<rect x="632.56" y="528.3" width="4" height="19.7" fill="#089981"/>
<rect x="637.80" y="533.3" width="4" height="14.7" fill="#089981"/>
<rect x="643.04" y="537.0" width="4" height="11.0" fill="#089981"/>
<rect x="648.28" y="543.2" width="4" height="4.8" fill="#089981"/>
<rect x="653.52" y="547.7" width="4" height="1.5" fill="#089981"/>
<rect x="658.76" y="548.0" width="4" height="3.4" fill="#F23645"/>
<rect x="664.00" y="548.0" width="4" height="4.0" fill="#F23645"/>
<rect x="669.24" y="548.0" width="4" height="8.3" fill="#F23645"/>
<rect x="674.48" y="548.0" width="4" height="10.5" fill="#F23645"/>
<rect x="679.72" y="548.0" width="4" height="11.5" fill="#F23645"/>
<rect x="684.96" y="548.0" width="4" height="14.6" fill="#F23645"/>
<rect x="690.70" y="548.5" width="3" height="5.4" fill="none" stroke="#F5707C" stroke-width="1"/>
<rect x="695.94" y="545.0" width="3" height="2.5" fill="none" stroke="#3FAE98" stroke-width="1"/>
<rect x="701.18" y="541.8" width="3" height="5.7" fill="none" stroke="#3FAE98" stroke-width="1"/>
<rect x="706.42" y="540.9" width="3" height="6.6" fill="none" stroke="#3FAE98" stroke-width="1"/>
<rect x="711.16" y="541.0" width="4" height="7.0" fill="#089981"/>
<rect x="716.40" y="542.1" width="4" height="5.9" fill="#089981"/>
<rect x="722.14" y="541.8" width="3" height="5.7" fill="none" stroke="#3FAE98" stroke-width="1"/>
<rect x="727.38" y="537.0" width="3" height="10.5" fill="none" stroke="#3FAE98" stroke-width="1"/>
<rect x="732.62" y="533.8" width="3" height="13.7" fill="none" stroke="#3FAE98" stroke-width="1"/>
<rect x="737.36" y="536.1" width="4" height="11.9" fill="#089981"/>
<rect x="743.10" y="533.8" width="3" height="13.7" fill="none" stroke="#3FAE98" stroke-width="1"/>
<rect x="748.34" y="528.8" width="3" height="18.7" fill="none" stroke="#3FAE98" stroke-width="1"/>
<rect x="753.58" y="523.2" width="3" height="24.3" fill="none" stroke="#3FAE98" stroke-width="1"/>
<rect x="758.82" y="522.0" width="3" height="25.5" fill="none" stroke="#3FAE98" stroke-width="1"/>
</g>
<path d="M13.1,566.7 C14.5,567.6 19.0,570.7 21.5,571.8 C24.0,572.9 26.1,573.2 28.3,573.5 C30.6,573.8 33.0,573.7 35.0,573.5 C37.0,573.3 38.6,572.4 40.1,572.3 C41.6,572.1 42.9,572.1 44.3,572.6 C45.7,573.1 47.0,574.5 48.6,575.1 C50.2,575.7 51.6,576.4 53.6,576.3 C55.6,576.2 57.8,575.1 60.4,574.3 C63.0,573.5 65.8,573.0 68.9,571.3 C72.0,569.6 75.6,566.2 79.0,564.2 C82.4,562.2 86.0,560.8 89.1,559.1 C92.2,557.4 94.8,555.3 97.6,554.0 C100.4,552.7 102.9,552.2 106.0,551.5 C109.1,550.8 112.8,550.6 116.2,549.8 C119.6,548.9 123.5,547.5 126.3,546.4 C129.1,545.3 130.8,544.7 133.1,543.0 C135.3,541.3 137.6,538.1 139.8,536.3 C142.1,534.5 143.8,533.1 146.6,532.0 C149.4,530.9 153.3,529.5 156.7,529.5 C160.1,529.5 163.2,530.7 166.9,532.0 C170.6,533.3 175.0,536.0 178.7,537.1 C182.4,538.2 186.2,537.8 188.9,538.8 C191.6,539.8 192.1,541.5 195.1,543.0 C198.1,544.5 203.0,546.3 206.9,548.1 C210.8,549.9 214.8,552.0 218.7,554.0 C222.6,556.0 226.9,559.8 230.6,560.4 C234.3,561.0 237.6,558.5 240.7,557.7 C243.8,556.9 246.4,556.2 249.2,555.4 C252.0,554.6 254.8,552.2 257.6,552.7 C260.4,553.2 263.3,555.3 266.1,558.2 C268.9,561.1 271.7,566.7 274.5,570.1 C277.3,573.5 279.6,576.5 283.0,578.5 C286.4,580.5 291.2,581.8 294.8,582.4 C298.4,583.0 301.5,583.2 304.9,582.4 C308.3,581.6 311.7,579.3 315.1,577.7 C318.5,576.1 321.8,574.0 325.2,572.6 C328.6,571.2 331.7,570.6 335.4,569.2 C339.1,567.8 343.5,566.3 347.2,564.2 C350.9,562.1 353.6,558.6 357.3,556.6 C361.0,554.6 364.6,554.3 369.2,552.3 C373.8,550.3 380.8,547.5 385.1,544.7 C389.5,542.0 391.9,538.2 395.3,535.8 C398.7,533.4 402.0,531.6 405.4,530.4 C408.8,529.1 412.2,528.2 415.6,528.3 C419.0,528.4 422.3,530.9 425.7,531.2 C429.1,531.6 433.1,530.4 435.9,530.4 C438.7,530.4 440.4,530.6 442.6,531.2 C444.9,531.8 446.9,533.6 449.4,534.1 C451.9,534.6 455.6,534.5 457.8,534.1 C460.1,533.7 459.8,532.3 462.9,531.7 C466.0,531.1 473.0,529.9 476.4,530.4 C479.8,530.9 480.4,532.1 483.2,534.6 C486.0,537.1 489.9,542.8 493.3,545.2 C496.7,547.6 500.1,547.0 503.5,549.0 C506.9,551.0 509.7,555.3 513.6,557.4 C517.5,559.5 523.2,560.3 527.1,561.6 C531.0,562.9 533.9,564.4 537.3,565.0 C540.7,565.6 544.6,565.1 547.4,565.5 C550.2,565.9 550.2,568.0 554.2,567.5 C558.2,567.0 565.6,565.4 571.2,562.3 C576.8,559.2 582.7,552.1 588.0,548.8 C593.3,545.5 598.3,545.2 603.0,542.6 C607.7,540.0 611.8,536.3 616.1,533.3 C620.5,530.3 625.4,526.0 629.1,524.5 C632.8,523.0 635.7,524.4 638.5,524.5 C641.3,524.6 642.6,524.1 646.0,525.3 C649.4,526.4 654.3,529.3 659.0,531.4 C663.7,533.5 669.3,535.9 674.0,538.0 C678.7,540.1 683.6,543.7 687.0,544.0 C690.4,544.3 691.7,541.6 694.5,539.8 C697.3,538.0 700.5,534.8 703.9,533.3 C707.3,531.8 711.7,531.7 715.1,531.1 C718.5,530.5 721.1,531.0 724.4,529.6 C727.7,528.2 732.2,524.0 734.7,523.0 C737.2,522.0 737.4,524.2 739.4,523.4 C741.4,522.6 744.3,520.5 746.8,518.4 C749.3,516.3 751.9,513.1 754.3,510.9 C756.6,508.7 759.8,506.2 760.9,505.3" fill="none" stroke="#FF9800" stroke-width="1.05"/>
<path d="M13.1,559.4 C15.1,560.2 20.1,562.6 24.9,564.2 C29.7,565.8 36.2,567.5 41.8,568.9 C47.4,570.2 54.2,571.7 58.7,572.3 C63.2,572.9 65.0,572.8 68.9,572.3 C72.9,571.8 77.3,570.7 82.4,569.2 C87.5,567.7 93.7,565.4 99.3,563.3 C104.9,561.2 110.6,558.8 116.2,556.6 C121.8,554.4 128.6,552.1 133.1,550.3 C137.6,548.5 139.3,547.4 143.2,545.6 C147.1,543.8 152.5,541.2 156.7,539.7 C160.9,538.2 164.9,536.9 168.6,536.3 C172.3,535.7 175.0,536.3 178.7,536.3 C182.4,536.3 185.9,535.5 190.6,536.3 C195.3,537.1 201.9,539.6 206.9,541.3 C211.9,543.0 215.9,544.4 220.4,546.4 C224.9,548.4 229.5,551.9 234.0,553.2 C238.5,554.5 242.4,554.2 247.5,554.4 C252.6,554.6 259.9,553.6 264.4,554.4 C268.9,555.2 270.6,556.9 274.5,559.1 C278.4,561.3 283.5,565.0 288.0,567.5 C292.5,570.0 297.4,572.8 301.6,574.3 C305.8,575.8 308.9,576.2 313.4,576.3 C317.9,576.3 323.8,575.4 328.6,574.6 C333.4,573.9 337.0,573.2 342.1,571.8 C347.2,570.3 353.5,568.1 359.0,565.9 C364.5,563.7 369.5,561.3 375.0,558.8 C380.5,556.3 386.8,553.6 391.9,551.0 C397.0,548.4 400.9,545.5 405.4,543.0 C409.9,540.5 413.9,537.9 419.0,536.3 C424.1,534.7 430.3,533.9 435.9,533.4 C441.5,532.9 447.2,533.6 452.8,533.4 C458.4,533.2 464.6,532.2 469.7,532.0 C474.8,531.8 478.1,531.3 483.2,532.4 C488.3,533.5 494.5,536.3 500.1,538.8 C505.7,541.3 511.4,544.6 517.0,547.3 C522.6,550.0 528.3,552.6 533.9,554.9 C539.5,557.1 545.6,559.4 550.8,560.8 C556.0,562.2 561.6,562.9 565.0,563.3 C568.4,563.7 567.4,564.2 571.2,563.2 C575.0,562.2 582.1,559.9 588.0,557.6 C593.9,555.3 600.5,552.3 606.7,549.2 C612.9,546.1 619.5,541.8 625.4,538.9 C631.3,536.0 637.5,533.5 642.2,532.0 C646.9,530.5 649.0,530.2 653.4,530.1 C657.8,530.0 663.7,530.5 668.4,531.4 C673.1,532.2 677.3,534.1 681.4,535.2 C685.5,536.4 688.0,538.0 692.7,538.3 C697.4,538.6 703.6,537.8 709.5,537.0 C715.4,536.2 722.9,534.7 728.2,533.3 C733.5,531.9 737.2,530.3 741.2,528.6 C745.2,526.9 749.1,524.7 752.4,523.0 C755.7,521.3 759.5,519.2 760.9,518.4" fill="none" stroke="#A56ED6" stroke-width="1.05"/>
<line x1="13" y1="133.5" x2="1064" y2="133.5" stroke="#F23645" stroke-width="1" stroke-dasharray="4,4"/>
</svg>
<!-- ohlc -->
<div class="t" style="left:20px;top:45px;font-size:11px"><span class="lbl">开：</span><span style="color:#F23645">1.11256</span></div>
<div class="t" style="left:93px;top:45px;font-size:11px"><span class="lbl">高：</span><span style="color:#089981">1.11325</span></div>
<div class="t" style="left:166px;top:45px;font-size:11px"><span class="lbl">低：</span><span style="color:#F23645">1.11129</span></div>
<div class="t" style="left:238px;top:45px;font-size:11px"><span class="lbl">收：</span><span style="color:#F23645">1.11231</span></div>
<div class="t" style="left:311px;top:45px;font-size:11px"><span class="lbl">时间：</span><span style="color:#111">2024-08-21 05:00</span></div>
<div class="t" style="left:21px;top:67px;font-size:10px;color:#333">MA(5,10,30,60)</div>
<div class="t" style="left:106px;top:67px;font-size:10px;color:#FF9800">MA5: 1.10673</div>
<div class="t" style="left:184px;top:67px;font-size:10px;color:#A56ED6">MA10: 1.10106</div>
<div class="t" style="left:268px;top:67px;font-size:10px;color:#2196F3">MA30: 1.09210</div>
<div class="t" style="left:352px;top:67px;font-size:10px;color:#E0407B">MA60: 1.08488</div>
<div class="t" style="left:21px;top:497px;font-size:10px;color:#333">MACD(12,26,9)</div>
<div class="t" style="left:106px;top:497px;font-size:10px;color:#FF9800">DIF: 0.0066</div>
<div class="t" style="left:174px;top:497px;font-size:10px;color:#A56ED6">DEA: 0.0046</div>
<div class="t" style="left:248px;top:497px;font-size:10px;color:#089981">MACD: 0.0040</div>
<div class="t" style="left:1071.0px;top:78.0px;font-size:11px;color:#222;">1.12000</div>
<div class="t" style="left:1071.0px;top:178.0px;font-size:11px;color:#222;">1.10400</div>
<div class="t" style="left:1071.0px;top:228.0px;font-size:11px;color:#222;">1.09600</div>
<div class="t" style="left:1071.0px;top:277.0px;font-size:11px;color:#222;">1.08800</div>
<div class="t" style="left:1071.0px;top:327.0px;font-size:11px;color:#222;">1.08000</div>
<div class="t" style="left:1071.0px;top:376.0px;font-size:11px;color:#222;">1.07200</div>
<div class="t" style="left:1071.0px;top:426.0px;font-size:11px;color:#222;">1.06400</div>
<div class="t" style="left:1071.0px;top:516.0px;font-size:11px;color:#222;">0.0040</div>
<div class="t" style="left:1071.0px;top:542.0px;font-size:11px;color:#222;">0.0000</div>
<div class="t" style="left:1071.0px;top:568.0px;font-size:11px;color:#222;">-0.0040</div>
<div class="t" style="left:12.5px;top:597.0px;font-size:11px;color:#222;">2024-02</div>
<div class="t" style="left:116.5px;top:597.0px;font-size:11px;color:#222;">2024-03</div>
<div class="t" style="left:221.5px;top:597.0px;font-size:11px;color:#222;">2024-04</div>
<div class="t" style="left:326.5px;top:597.0px;font-size:11px;color:#222;">2024-05</div>
<div class="t" style="left:437.0px;top:597.0px;font-size:11px;color:#222;">05-30</div>
<div class="t" style="left:536.5px;top:597.0px;font-size:11px;color:#222;">2024-06</div>
<div class="t" style="left:641.0px;top:597.0px;font-size:11px;color:#222;">2024-07</div>
<div class="t" style="left:1064px;top:125px;width:49px;height:15.5px;background:#F23645;border-radius:2px;color:#fff;font-size:12.5px;line-height:15px;text-align:center">1.11231</div>
<div class="t" style="left:771.0px;top:113.7px;font-size:10.5px;color:#333;">1.11325</div>
<div class="t" style="left:294.0px;top:456.8px;font-size:10.5px;color:#333;">1.06009</div>
<svg width="1124" height="651" style="position:absolute;left:0;top:0"><path d="M766 120.5 H761 V125" fill="none" stroke="#222" stroke-width="1.1"/><path d="M758.8 123 L761 125.6 L763.2 123" fill="none" stroke="#222" stroke-width="1.1"/><path d="M290 463.5 H284.5 V457" fill="none" stroke="#222" stroke-width="1.2"/><path d="M282.5 459 L284.5 456 L286.5 459" fill="none" stroke="#222" stroke-width="1"/></svg>
<div style="position:absolute;left:832px;top:65px;width:276px;height:56px;background:#F4F4F4;box-shadow:1px 2px 3px rgba(0,0,0,0.18)"></div>
<svg width="1124" height="651" style="position:absolute;left:0;top:0"><path d="M860 75 H970 Q974 75 972.5 79 L960 107 Q958.5 111 954 111 H860 Q854 111 854 105 V81 Q854 75 860 75 Z" fill="#F23645"/><path d="M991 75 H1088 Q1094 75 1094 81 V105 Q1094 111 1088 111 H979 Q975 111 976.5 107 L987 79 Q988.5 75 991 75 Z" fill="#089981"/><g fill="#fff" opacity="0.9"><circle cx="841" cy="86" r="0.8"/><circle cx="846" cy="86" r="0.8"/><circle cx="841" cy="92" r="0.8"/><circle cx="846" cy="92" r="0.8"/><circle cx="841" cy="98" r="0.8"/><circle cx="846" cy="98" r="0.8"/></g></svg>
<div class="t" style="left:878px;top:88px;font-size:12px;font-weight:bold;color:#fff">卖出 1.11231</div>
<div class="t" style="left:998px;top:88px;font-size:12px;font-weight:bold;color:#fff">买入 1.11235</div>
<div style="position:absolute;left:0;top:645px;width:1124px;height:6px;background:#EFF1F5"></div>
<div style="position:absolute;left:7px;top:647px;width:1116px;height:4px;background:#fff"></div>
<div style="position:absolute;left:483px;top:619px;width:40px;height:24px;background:#F4F5F7;border-radius:4px"></div>
<div class="t" style="left:26.0px;top:627.0px;font-size:12.5px;color:#222;">分时</div>
<div class="t" style="left:78.0px;top:627.0px;font-size:12.5px;color:#222;">2日</div>
<div class="t" style="left:124.0px;top:627.0px;font-size:12.5px;color:#222;">1分</div>
<div class="t" style="left:170.0px;top:627.0px;font-size:12.5px;color:#222;">5分</div>
<div class="t" style="left:215.0px;top:627.0px;font-size:12.5px;color:#222;">15分</div>
<div class="t" style="left:267.0px;top:627.0px;font-size:12.5px;color:#222;">30分</div>
<div class="t" style="left:320.0px;top:627.0px;font-size:12.5px;color:#222;">1小时</div>
<div class="t" style="left:377.0px;top:627.0px;font-size:12.5px;color:#222;">2小时</div>
<div class="t" style="left:435.0px;top:627.0px;font-size:12.5px;color:#222;">4小时</div>
<div class="t" style="left:492.0px;top:627.0px;font-size:12.5px;color:#1677FF;">日K</div>
<div class="t" style="left:540.0px;top:627.0px;font-size:12.5px;color:#222;">周K</div>
<div class="t" style="left:587.0px;top:627.0px;font-size:12.5px;color:#222;">月K</div>
</body></html>
